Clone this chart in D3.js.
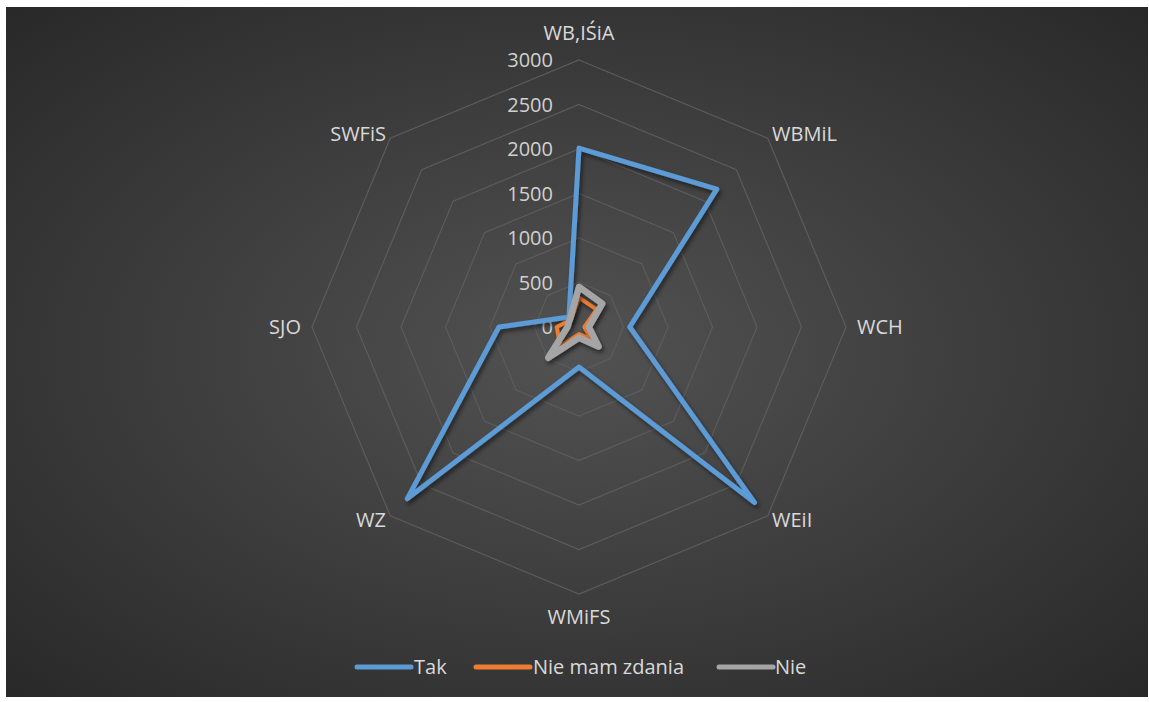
<!DOCTYPE html>
<html><head><meta charset="utf-8">
<script src="https://cdn.jsdelivr.net/npm/d3@7"></script>
<style>body{margin:0;background:#fff;}svg{display:block;}</style>
</head><body>
<script>
const categories = ["WB,IŚiA","WBMiL","WCH","WEiI","WMiFS","WZ","SJO","SWFiS"];
const seriesNames = ["Tak","Nie mam zdania","Nie"];
const tak = [2010, 2190, 570, 2790, 450, 2730, 900, 160];
const nieMamZdania = [330, 280, 60, 200, 80, 300, 250, 120];
const nie = [450, 370, 110, 310, 120, 490, 130, 140];
const tickValues = [0, 500, 1000, 1500, 2000, 2500, 3000];
const colors = ["#5B9BD5", "#ED7D31", "#A5A5A5"];

const W = 1149, H = 702, cx = 579, cy = 327, R = 267;
const svg = d3.select("body").append("svg").attr("width", W).attr("height", H);
const defs = svg.append("defs");
const grad = defs.append("radialGradient").attr("id","bg").attr("cx","50%").attr("cy","50%").attr("r","75%");
grad.append("stop").attr("offset","0%").attr("stop-color","#525252");
grad.append("stop").attr("offset","100%").attr("stop-color","#262626");
const f = defs.append("filter").attr("id","sh").attr("x","-20%").attr("y","-20%").attr("width","140%").attr("height","140%");
f.append("feDropShadow").attr("dx",2).attr("dy",3).attr("stdDeviation",2).attr("flood-color","#000").attr("flood-opacity",0.5);

svg.append("rect").attr("x",6).attr("y",7).attr("width",1142).attr("height",690).attr("fill","url(#bg)");

const r = d3.scaleLinear().domain([0,3000]).range([0,R]);
const angle = d3.scalePoint().domain(categories).range([0, 2*Math.PI*(categories.length-1)/categories.length]);
const font = "'Open Sans', sans-serif";

// grid rings
const ringLine = d3.lineRadial().angle(d=>angle(d.c)).radius(d=>r(d.v)).curve(d3.curveLinearClosed);
const g = svg.append("g").attr("transform",`translate(${cx},${cy})`);
tickValues.filter(v=>v>0).forEach(v=>{
  g.append("path").attr("d", ringLine(categories.map(c=>({c, v}))))
    .attr("fill","none").attr("stroke","#5c5c5c").attr("stroke-width",1.2);
});

// tick labels
g.selectAll(".tick").data(tickValues).join("text")
  .attr("x",-26).attr("y",d=>-r(d)).attr("dy","0.35em")
  .attr("text-anchor","end").attr("fill","#d0d0d0")
  .style("font-family",font).style("font-size","20px").text(d=>d);

// category labels
categories.forEach(c=>{
  const a = angle(c), s = Math.sin(a), co = Math.cos(a);
  let off, anchor;
  if (Math.abs(s) < 0.1) { off = co > 0 ? 27 : 23; anchor = "middle"; }
  else if (Math.abs(co) < 0.1) { off = 11; anchor = s > 0 ? "start" : "end"; }
  else { off = 6; anchor = s > 0 ? "start" : "end"; }
  const x = (R+off)*s, y = -(R+off)*co;
  g.append("text").attr("x",x).attr("y",y).attr("dy","0.35em").attr("text-anchor",anchor)
    .attr("fill","#d9d9d9").style("font-family",font).style("font-size","20px").text(c);
});

// series
const series = [tak, nieMamZdania, nie];
const widths = [5, 4, 6.5];
const line = d3.lineRadial().angle((d,i)=>angle(categories[i])).radius(d=>r(d)).curve(d3.curveLinearClosed);
series.forEach((vals,i)=>{
  g.append("path").attr("d", line(vals)).attr("fill","none")
    .attr("stroke",colors[i]).attr("stroke-width",widths[i])
    .attr("stroke-linejoin","round").attr("filter","url(#sh)");
});

// legend
const legend = [{x:357, tx:414}, {x:476, tx:533}, {x:719, tx:775}];
seriesNames.forEach((n,i)=>{
  svg.append("line").attr("x1",legend[i].x).attr("x2",legend[i].x+54).attr("y1",667).attr("y2",667)
    .attr("stroke",colors[i]).attr("stroke-width",5).attr("stroke-linecap","round");
  svg.append("text").attr("x",legend[i].tx).attr("y",667).attr("dy","0.35em")
    .attr("fill","#d9d9d9").style("font-family",font).style("font-size","20px").text(n);
});
</script>
</body></html>
